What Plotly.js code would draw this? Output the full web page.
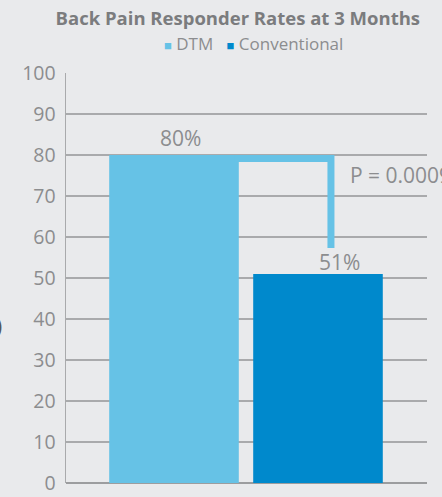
<!DOCTYPE html>
<html>
<head>
<meta charset="utf-8">
<script src="https://cdn.plot.ly/plotly-3.0.1.min.js"></script>
<style>
  html, body { margin: 0; padding: 0; background: #e9eaec; }
  #chart { width: 442px; height: 497px; }
</style>
</head>
<body>
<div id="chart"></div>
<script>
// Responder rates (%) at 3 months
const groups = ["DTM", "Conventional"];
const rates = [80, 51];
const groupColors = ["#66c2e6", "#0089cc"];
const yTicks = [0, 10, 20, 30, 40, 50, 60, 70, 80, 90, 100];
const pValueText = "P = 0.0009";
const chartTitle = "Back Pain Responder Rates at 3 Months";

const FONT = "Open Sans, Lato, sans-serif";
const GRID = "#a9aaac";
const TEXT = "#8c8d8f";

// one trace per group so each keeps its own colour
const traces = groups.map((g, i) => ({
  type: "bar",
  name: g,
  x: [i],
  y: [rates[i]],
  width: 0.9,
  marker: { color: groupColors[i], line: { width: 0 } },
  showlegend: false,
  hoverinfo: "skip"
}));

// value labels above the bars
const valueLabels = rates.map((v, i) => ({
  xref: "x", yref: "y",
  x: i, y: v,
  text: v + "%",
  showarrow: false,
  xanchor: "center", yanchor: "middle",
  xshift: i === 0 ? 6 : 22,
  yshift: i === 0 ? 17 : 12,
  font: { family: FONT, size: 21, color: TEXT }
}));

// legend line drawn as a single centred label
const legendText = groups.map((g, i) =>
  `<span style="color:${groupColors[i]};font-size:13px">■</span> ${g}`
).join("   ");

const bracketX0 = 0.42, bracketX1 = 1.09, bracketLow = 57.3;
const bracketTop = rates[0] - 0.85;

const layout = {
  width: 442, height: 497,
  autosize: false,
  paper_bgcolor: "#e9eaec",
  plot_bgcolor: "#e9eaec",
  margin: { l: 66, r: 15, t: 73, b: 14, pad: 0 },
  title: {
    text: "<b>" + chartTitle + "</b>",
    x: 0.538, xref: "container", xanchor: "center",
    y: 0.962, yref: "container", yanchor: "middle",
    font: { family: FONT, size: 18.5, color: "#7b7c7e" }
  },
  barmode: "overlay",
  xaxis: {
    range: [-0.75, 1.757],
    showgrid: false,
    zeroline: false,
    showline: false,
    tickmode: "array",
    tickvals: [-0.749, 1.752],
    ticktext: ["", ""],
    ticks: "inside",
    ticklen: 10,
    tickwidth: 2,
    tickcolor: "#9c9d9f",
    fixedrange: true
  },
  yaxis: {
    range: [0, 100],
    tickmode: "array",
    tickvals: yTicks,
    showgrid: true,
    gridcolor: GRID,
    gridwidth: 1.5,
    zeroline: true,
    zerolinecolor: "#9c9d9f",
    zerolinewidth: 2.5,
    showline: true,
    linecolor: GRID,
    linewidth: 1.5,
    ticks: "",
    ticklabelstandoff: 5,
    tickfont: { family: FONT, size: 19.5, color: TEXT },
    fixedrange: true
  },
  shapes: [{
    type: "path",
    xref: "x", yref: "y",
    path: `M ${bracketX0},${bracketTop} L ${bracketX1},${bracketTop} L ${bracketX1},${bracketLow}`,
    line: { color: groupColors[0], width: 7 }
  }],
  annotations: valueLabels.concat([
    {
      xref: "x", yref: "y",
      x: 1.205, y: 75.1,
      text: pValueText,
      showarrow: false,
      xanchor: "left", yanchor: "middle",
      font: { family: FONT, size: 21, color: TEXT }
    },
    {
      xref: "paper", yref: "paper",
      x: 0.519, y: 1.073,
      text: legendText,
      showarrow: false,
      xanchor: "center", yanchor: "middle",
      font: { family: FONT, size: 17, color: TEXT }
    },
    {
      xref: "paper", yref: "paper",
      x: -0.172, y: 0.385,
      text: "(%)",
      showarrow: false,
      xanchor: "right", yanchor: "middle",
      font: { family: FONT, size: 22, color: "#55575a" }
    }
  ])
};

Plotly.newPlot("chart", traces, layout, { displayModeBar: false, staticPlot: true });
</script>
</body>
</html>
